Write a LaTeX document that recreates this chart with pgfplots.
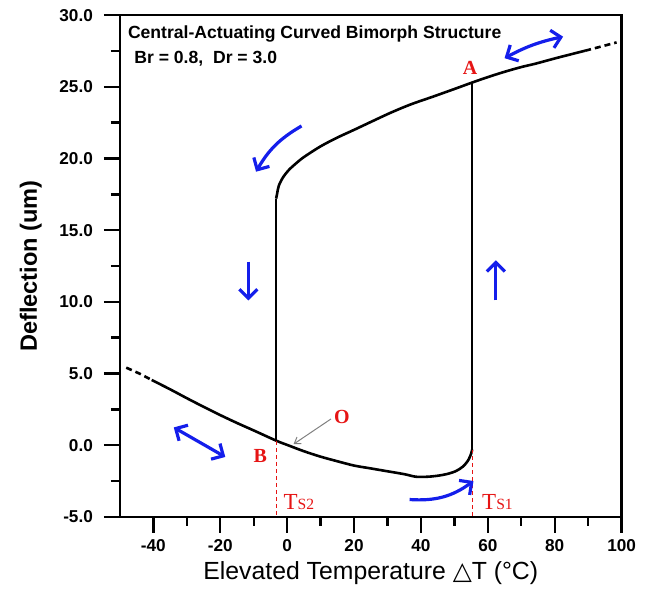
\documentclass[border=0pt]{standalone}
\usepackage{pgfplots}
\pgfplotsset{compat=1.18}
\usepackage{fontspec}
\setmainfont{Liberation Sans}
\newfontfamily\timesfont{Liberation Serif}
\newfontfamily\dejavu{DejaVu Sans}
\usetikzlibrary{arrows.meta}
\definecolor{arrblue}{RGB}{20,30,235}
\definecolor{lblred}{RGB}{230,20,20}
\begin{document}
\begin{tikzpicture}
\begin{axis}[
  scale only axis, width=251pt, height=251pt,
  xmin=-50, xmax=100, ymin=-5, ymax=30,
  xtick={-40,-20,...,100}, ytick={-5,0,...,30},
  minor x tick num=1, minor y tick num=1,
  tick align=outside, xtick pos=bottom, ytick pos=left,
  major tick length=8pt, minor tick length=4.5pt,
  tick style={black, line width=1.2pt},
  axis line style={line width=1.3pt},
  /pgf/number format/assume math mode=true,
  y tick label style={xshift=-2pt, /pgf/number format/fixed, /pgf/number format/fixed zerofill, /pgf/number format/precision=1},
  tick label style={font=\bfseries\fontsize{8.6}{10}\selectfont},
  xlabel={Elevated Temperature {\dejavu △}T (°C)},
  xlabel style={font=\fontsize{12.4}{14}\selectfont, yshift=2pt},
  ylabel={Deflection (um)},
  ylabel style={font=\bfseries\fontsize{11.8}{14}\selectfont},
  ylabel shift=2pt,
  clip=false,
]
% lower branch (dashed start)
\addplot[black, line width=1.3pt, dashed, dash pattern=on 3pt off 2pt] coordinates {
(-48.1,5.41) (-44,4.98) (-40.5,4.55)
};
\addplot[black, line width=1.3pt, smooth, tension=0.5] coordinates {
(-40.5,4.55) (-35,3.9) (-30,3.28) (-25,2.68) (-20,2.1) (-15,1.55) (-10,1.03)
(-3.3,0.32) (0,0.02) (5,-0.42) (10,-0.8) (15,-1.12) (20,-1.42) (25,-1.62) (30,-1.82)
(35,-2.02) (38.5,-2.2) (42,-2.2) (45,-2.13) (48,-2.0) (50.5,-1.8) (52.5,-1.5)
(54,-1.1) (55,-0.6) (55.3,-0.3)
};
% right jump
\addplot[black, line width=1pt] coordinates {(55.3,-0.3) (55.3,25.3)};
% upper branch
\addplot[black, line width=1.3pt, smooth, tension=0.5] coordinates {
(-3.3,17.2) (-3.0,17.55) (-2.5,18.1) (-1.2,18.7) (0.5,19.2) (2.6,19.65) (5,20.1)
(10,20.85) (14.9,21.45) (20,22.0) (25,22.55) (31,23.2) (37,23.78) (43.4,24.3)
(50,24.85) (55.3,25.3) (60,25.68) (65,26.05) (70,26.38) (74.3,26.62) (80,26.98)
(85,27.28) (89.1,27.52)
};
\addplot[black, line width=1.3pt, dashed, dash pattern=on 3pt off 2pt] coordinates {
(89.1,27.52) (94,27.82) (98.5,28.1)
};
% left jump
\addplot[black, line width=1pt] coordinates {(-3.3,17.2) (-3.3,0.32)};
% red dashed markers
\addplot[lblred, line width=0.6pt, dashed, dash pattern=on 2pt off 1.5pt] coordinates {(-3.3,0.3) (-3.3,-5)};
\addplot[lblred, line width=0.6pt, dashed, dash pattern=on 2pt off 1.5pt] coordinates {(55.3,-0.3) (55.3,-5)};

% texts
\node[anchor=west, font=\bfseries\fontsize{8.8}{10}\selectfont, inner sep=0] at (axis cs:-47.7,28.7) {Central-Actuating Curved Bimorph Structure};
\node[anchor=west, font=\bfseries\fontsize{8.8}{10}\selectfont, inner sep=0] at (axis cs:-45.8,26.95) {Br = 0.8,\ \ Dr = 3.0};

\node[text=lblred, font=\timesfont\bfseries\fontsize{10}{11}\selectfont, inner sep=0] at (axis cs:54.7,26.35) {A};
\node[text=lblred, font=\timesfont\bfseries\fontsize{10}{11}\selectfont, inner sep=0] at (axis cs:-8.0,-0.75) {B};
\node[text=lblred, font=\timesfont\bfseries\fontsize{10}{11}\selectfont, inner sep=0] at (axis cs:16.4,2.0) {O};
\node[anchor=west, text=lblred, inner sep=0] at (axis cs:-1.2,-4.0) {\timesfont\fontsize{11.5}{12}\selectfont T\fontsize{7.8}{8}\selectfont S2};
\node[anchor=west, text=lblred, inner sep=0] at (axis cs:58.2,-4.0) {\timesfont\fontsize{11.5}{12}\selectfont T\fontsize{7.8}{8}\selectfont S1};

% gray pointer to O
\draw[gray, line width=0.5pt, -{Straight Barb[length=3pt,width=4pt]}] (axis cs:13.1,1.83) -- (axis cs:1.9,0.07);

% blue arrows
\draw[arrblue, line width=1.6pt, {Straight Barb[length=4.5pt,width=9pt]}-{Straight Barb[length=4.5pt,width=9pt]}] (axis cs:65,27.0) to[bend left=8] (axis cs:82.5,28.5);
\draw[arrblue, line width=1.6pt, -{Straight Barb[length=4.5pt,width=9pt]}] (axis cs:4.3,22.27) to[bend right=15] (axis cs:-9.3,19.08);
\draw[arrblue, line width=1.6pt, -{Straight Barb[length=4.5pt,width=9pt]}] (axis cs:-11.6,12.8) -- (axis cs:-11.6,10.1);
\draw[arrblue, line width=1.6pt, -{Straight Barb[length=4.5pt,width=9pt]}] (axis cs:62.4,10.1) -- (axis cs:62.4,12.9);
\draw[arrblue, line width=1.6pt, {Straight Barb[length=4.5pt,width=9pt]}-{Straight Barb[length=4.5pt,width=9pt]}] (axis cs:-33.9,1.24) -- (axis cs:-18.5,-0.82);
\draw[arrblue, line width=1.6pt, -{Straight Barb[length=4.5pt,width=9pt]}] (axis cs:36.6,-3.79) to[bend right=20] (axis cs:55.7,-2.5);
\end{axis}
\pgfresetboundingbox
\path ([shift={(-60pt,-36.7pt)}]current axis.south west) rectangle ([shift={(12.2pt,7.6pt)}]current axis.north east);
\end{tikzpicture}
\end{document}
